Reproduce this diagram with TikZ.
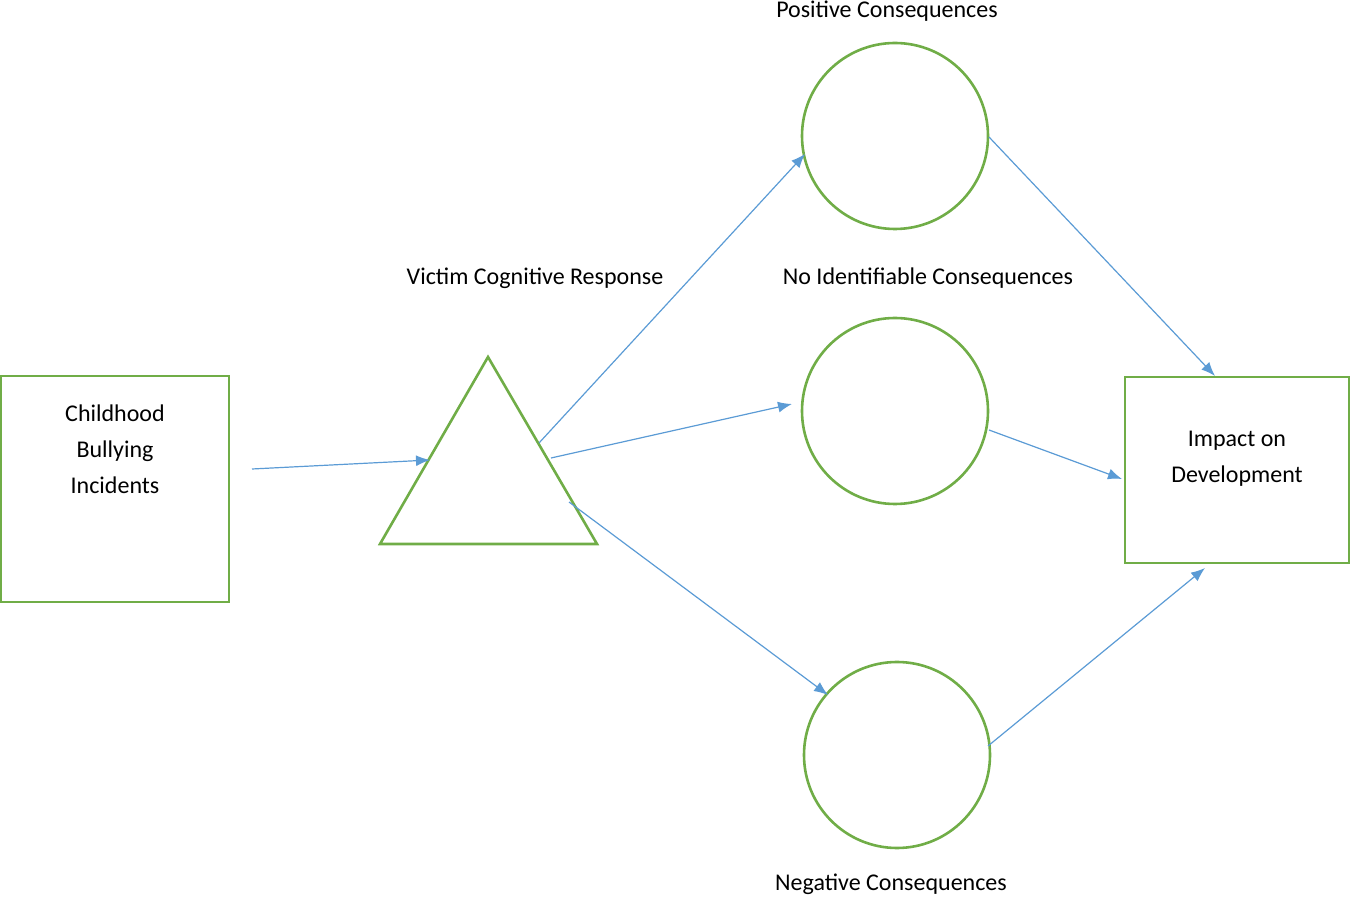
\documentclass[tikz,border=0pt]{standalone}
\usepackage{fontspec}
\setmainfont{Carlito}
\usetikzlibrary{arrows.meta}
\definecolor{gr}{RGB}{112,173,71}
\definecolor{bl}{RGB}{91,155,213}
\begin{document}
\begin{tikzpicture}[x=0.5pt,y=-0.5pt,
  shp/.style={draw=gr,line width=1.3pt},
  con/.style={draw=bl,line width=0.6pt,-{Latex[length=7pt,width=5.5pt]}},
  lbl/.style={font=\fontsize{12}{15}\selectfont,inner sep=0pt,align=center}]
\useasboundingbox (0,0) rectangle (1350,897);
\draw[shp] (1,376) rectangle (229,602);
\draw[shp] (1125,377) rectangle (1349,563);
\draw[shp] (488,357) -- (597,544) -- (380,544) -- cycle;
\draw[shp] (895,136) circle[radius=93];
\draw[shp] (895,411) circle[radius=93];
\draw[shp] (897,755) circle[radius=93];
\node[lbl] (t1) at (115,449) {Childhood\\[3pt]Bullying\\[3pt]Incidents};
\node[lbl] (t2) at (1237,459) {Impact on\\[3pt]Development};
\node[lbl] (t3) at (887,11) {Positive Consequences};
\node[lbl] (t4) at (535,278) {Victim Cognitive Response};
\node[lbl] (t5) at (928,278) {No Identifiable Consequences};
\node[lbl] (t6) at (891,884) {Negative Consequences};
\coordinate (a1) at (252,469); \coordinate (b1) at (430,460);
\coordinate (a2) at (539,443); \coordinate (b2) at (805,154);
\coordinate (a3) at (551,458); \coordinate (b3) at (792,404);
\coordinate (a4) at (569,502); \coordinate (b4) at (828,695);
\coordinate (a5) at (989,137); \coordinate (b5) at (1215,376);
\coordinate (a6) at (989,430); \coordinate (b6) at (1122,479);
\coordinate (a7) at (988,746); \coordinate (b7) at (1205,568);
\foreach \i in {1,...,7} \draw[con] (a\i) -- (b\i);
\end{tikzpicture}
\end{document}
